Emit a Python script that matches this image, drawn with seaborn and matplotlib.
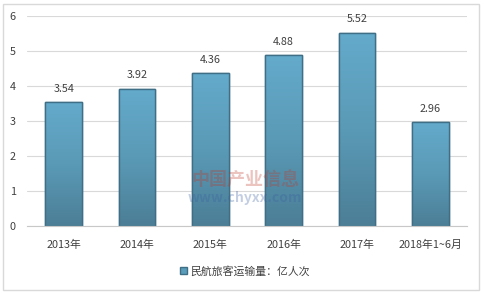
import matplotlib
matplotlib.use("Agg")
import matplotlib.pyplot as plt
import seaborn as sns
import pandas as pd
import numpy as np
from matplotlib.patches import Rectangle
from matplotlib.colors import LinearSegmentedColormap

categories = ["2013年", "2014年", "2015年", "2016年", "2017年", "2018年1~6月"]
values = [3.54, 3.92, 4.36, 4.88, 5.52, 2.96]
series_name = "民航旅客运输量：亿人次"
yticks = [0, 1, 2, 3, 4, 5, 6]

sns.set_theme(style="white")
plt.rcParams['font.family'] = ['Noto Sans CJK SC', 'DejaVu Sans']

df = pd.DataFrame({"cat": categories, "val": values})

fig = plt.figure(figsize=(4.84, 2.93), dpi=100)
ax = fig.add_axes([27/484, 1-226/293, (467-27)/484, (226-16)/293])

sns.barplot(data=df, x="cat", y="val", ax=ax, color="#5a9dba", width=0.5,
            edgecolor="#3f6f86", linewidth=1.0, saturation=1)

ax.set_ylim(0, 6)
ax.set_xlim(-0.5, len(categories) - 0.5)

# vertical gradient fill clipped to each bar
cmap = LinearSegmentedColormap.from_list("g", ["#4c7e96", "#5a9ab6", "#64aacb"])
grad = np.linspace(0, 1, 256).reshape(-1, 1)
for p in ax.patches:
    x0, y0 = p.get_x(), p.get_y()
    w, h = p.get_width(), p.get_height()
    im = ax.imshow(grad, cmap=cmap, origin="lower", aspect="auto",
                   extent=[x0, x0 + w, y0, y0 + h], zorder=p.get_zorder() + 0.1)
    im.set_clip_path(p)
    ax.add_patch(Rectangle((x0, y0), w, h, fill=False, edgecolor="#3f6f86",
                           linewidth=1.0, zorder=p.get_zorder() + 0.2))
ax.set_ylim(0, 6)
ax.set_xlim(-0.5, len(categories) - 0.5)

ax.set_yticks(yticks)
ax.set_yticklabels([str(t) for t in yticks])
ax.yaxis.grid(True, color="#d9d9d9", linewidth=0.8)
ax.set_axisbelow(True)
for s in ["top", "right", "left"]:
    ax.spines[s].set_visible(False)
ax.spines["bottom"].set_color("#c8c8c8")
ax.spines["bottom"].set_linewidth(0.8)
ax.tick_params(axis="both", length=0, labelsize=7.8, colors="#404040")
ax.tick_params(axis="x", pad=10)
ax.tick_params(axis="y", pad=8)
ax.set_xlabel("")
ax.set_ylabel("")

for i, v in enumerate(values):
    ax.annotate(f"{v:.2f}", (i, v), xytext=(0, 6), textcoords="offset points",
                ha="center", va="bottom", fontsize=7.8, color="#404040", zorder=5)

# legend
handle = Rectangle((0, 0), 1, 1, facecolor="#5a9dba", edgecolor="#3f6f86")
fig.legend([handle], [series_name], loc="center", bbox_to_anchor=(245/484, 1-271/293),
           frameon=False, fontsize=7.8, handlelength=0.7, handleheight=0.7,
           handletextpad=0.3, labelcolor="#404040")

# watermark text
fig.text(245/484, 1-180/293, "中国产业信息", ha="center", va="center", fontsize=13,
         color="#c0392b", alpha=0.3, fontweight="bold")
fig.text(245/484, 1-198/293, "www.chyxx.com", ha="center", va="center", fontsize=10,
         color="#3a5fa0", alpha=0.3, fontweight="bold")

# figure border
fig.patches.append(Rectangle((3/484, 3/293), 476/484, 286/293, transform=fig.transFigure,
                             fill=False, edgecolor="#d9d9d9", linewidth=1))

fig.savefig("out.png", dpi=100)
